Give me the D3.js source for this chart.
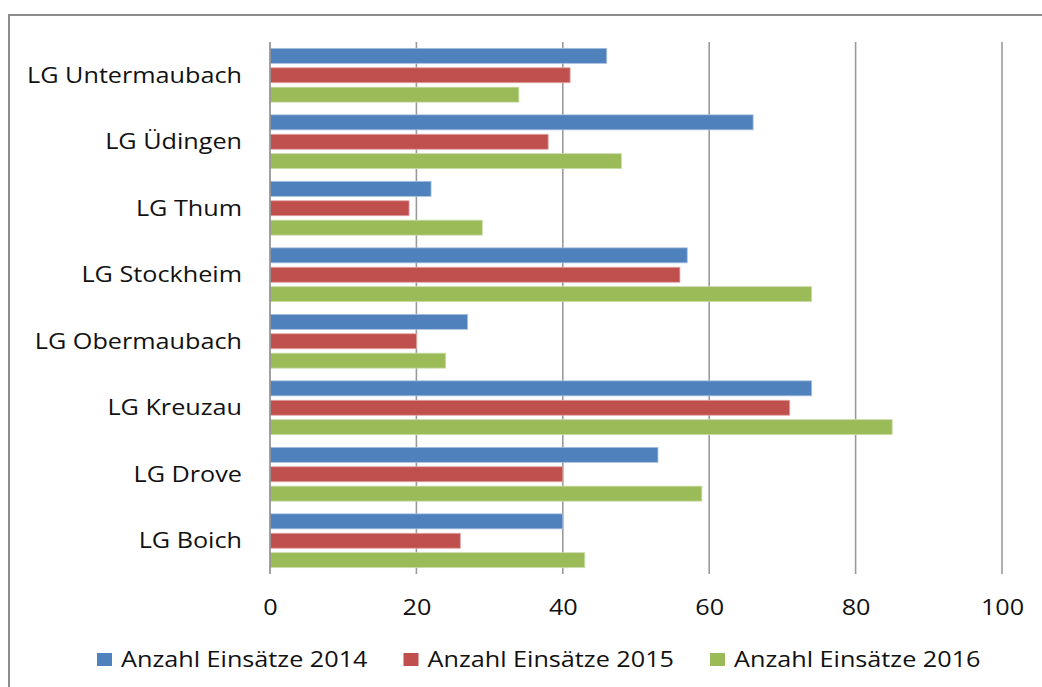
<!DOCTYPE html>
<html>
<head>
<meta charset="utf-8">
<script src="https://cdn.jsdelivr.net/npm/d3@7"></script>
<style>
  html, body { margin: 0; padding: 0; background: #fff; }
  svg { display: block; }
  text { font-family: "Open Sans", "Noto Sans", sans-serif; fill: #111; }
</style>
</head>
<body>
<svg id="chart" width="1042" height="687"></svg>
<script>
// ---- data ----
const categories = ["LG Untermaubach", "LG Üdingen", "LG Thum", "LG Stockheim",
                    "LG Obermaubach", "LG Kreuzau", "LG Drove", "LG Boich"];
const seriesNames = ["Anzahl Einsätze 2014", "Anzahl Einsätze 2015", "Anzahl Einsätze 2016"];
const values2014 = [46, 66, 22, 57, 27, 74, 53, 40];
const values2015 = [41, 38, 19, 56, 20, 71, 40, 26];
const values2016 = [34, 48, 29, 74, 24, 85, 59, 43];
const tickValues = [0, 20, 40, 60, 80, 100];

// ---- styles ----
const colors = ["#4F81BD", "#C0504D", "#9BBB59"];
const strokes = ["#a9c0de", "#e0a8a6", "#cddcac"];
const series = [values2014, values2015, values2016];
const SX = 1.2;       // horizontal stretch of text
const FS = 21;

const svg = d3.select("#chart");

// outer border
svg.append("rect")
  .attr("x", 9).attr("y", 15)
  .attr("width", 1100).attr("height", 800)
  .attr("fill", "none").attr("stroke", "#8c8c8c").attr("stroke-width", 2);

const x = d3.scaleLinear().domain([0, 100]).range([270, 1002]);
const y = d3.scaleBand().domain(categories).range([42, 574]).padding(0);
const ys = d3.scaleBand().domain(d3.range(series.length))
  .range([0, y.bandwidth()]).paddingInner(0.227).paddingOuter(0.327);

// gridlines
svg.append("g").selectAll("line")
  .data(tickValues.filter(d => d !== 0))
  .join("line")
  .attr("x1", d => x(d)).attr("x2", d => x(d))
  .attr("y1", 42).attr("y2", 574)
  .attr("stroke", "#9a9a9a").attr("stroke-width", 1.6);

// bars
const groups = svg.append("g").selectAll("g")
  .data(categories)
  .join("g")
  .attr("transform", c => `translate(0,${y(c)})`);

groups.selectAll("rect")
  .data((c, i) => series.map((s, k) => ({k, v: s[i]})))
  .join("rect")
  .attr("x", x(0) + 0.5)
  .attr("y", d => ys(d.k))
  .attr("width", d => x(d.v) - x(0) - 0.5)
  .attr("height", ys.bandwidth())
  .attr("fill", d => colors[d.k])
  .attr("stroke", d => strokes[d.k])
  .attr("stroke-width", 0.8);

// category axis line
svg.append("line")
  .attr("x1", x(0)).attr("x2", x(0))
  .attr("y1", 42).attr("y2", 574)
  .attr("stroke", "#8a8a8a").attr("stroke-width", 1.6);

// category labels
svg.append("g").selectAll("text")
  .data(categories)
  .join("text")
  .attr("transform", c => `translate(242,${y(c) + y.bandwidth() / 2 + 7.5}) scale(${SX},1)`)
  .attr("text-anchor", "end")
  .attr("font-size", FS)
  .text(c => c);

// value axis tick labels
const xAxis = d3.axisBottom(x).tickValues(tickValues).tickSize(0).tickPadding(0);
const gx = svg.append("g").attr("transform", "translate(0,574)").call(xAxis);
gx.select(".domain").remove();
gx.selectAll("text")
  .attr("y", 0).attr("dy", null)
  .attr("transform", `translate(0,41) scale(${SX},1)`)
  .attr("font-size", FS)
  .attr("font-family", "Open Sans, Noto Sans, sans-serif")
  .attr("fill", "#111");

// legend
const legend = svg.append("g").selectAll("g")
  .data(seriesNames)
  .join("g")
  .attr("transform", (d, i) => `translate(${97 + i * 306.5},0)`);
legend.append("rect")
  .attr("x", 0).attr("y", 653).attr("width", 15).attr("height", 13)
  .attr("fill", (d, i) => colors[i]);
legend.append("text")
  .attr("transform", `translate(24,667) scale(${SX},1)`)
  .attr("font-size", FS)
  .text(d => d);
</script>
</body>
</html>
